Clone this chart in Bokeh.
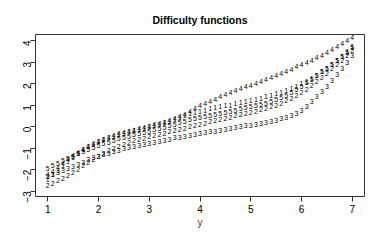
from bokeh.plotting import figure
from bokeh.models import ColumnDataSource, FixedTicker, Range1d
from bokeh.core.properties import value
from bokeh.embed import file_html
from bokeh.resources import INLINE
import math

x_grid = [1.0, 1.1, 1.2, 1.3, 1.4, 1.5, 1.6, 1.7, 1.8, 1.9,
          2.0, 2.1, 2.2, 2.3, 2.4, 2.5, 2.6, 2.7, 2.8, 2.9,
          3.0, 3.1, 3.2, 3.3, 3.4, 3.5, 3.6, 3.7, 3.8, 3.9,
          4.0, 4.1, 4.2, 4.3, 4.4, 4.5, 4.6, 4.7, 4.8, 4.9,
          5.0, 5.1, 5.2, 5.3, 5.4, 5.5, 5.6, 5.7, 5.8, 5.9,
          6.0, 6.1, 6.2, 6.3, 6.4, 6.5, 6.6, 6.7, 6.8, 6.9, 7.0]

series_1 = [-2.45, -2.24, -2.03, -1.82, -1.61, -1.42, -1.24, -1.08, -0.94, -0.82,
            -0.71, -0.61, -0.52, -0.44, -0.37, -0.31, -0.25, -0.19, -0.13, -0.07,
            -0.01, 0.05, 0.11, 0.18, 0.25, 0.33, 0.42, 0.52, 0.60, 0.66,
            0.72, 0.77, 0.83, 0.88, 0.92, 0.96, 1.00, 1.05, 1.10, 1.15,
            1.21, 1.26, 1.32, 1.38, 1.45, 1.52, 1.60, 1.68, 1.77, 1.87,
            1.98, 2.10, 2.24, 2.39, 2.55, 2.72, 2.89, 3.07, 3.26, 3.47, 3.72]

series_2 = [-2.75, -2.64, -2.52, -2.40, -2.27, -2.13, -1.98, -1.82, -1.66, -1.51,
            -1.37, -1.24, -1.12, -1.01, -0.91, -0.82, -0.74, -0.67, -0.60, -0.54,
            -0.48, -0.42, -0.36, -0.31, -0.25, -0.19, -0.13, -0.07, -0.01, 0.04,
            0.10, 0.16, 0.22, 0.28, 0.33, 0.39, 0.44, 0.50, 0.55, 0.61,
            0.66, 0.72, 0.78, 0.85, 0.92, 1.00, 1.09, 1.19, 1.31, 1.44,
            1.58, 1.74, 1.91, 2.09, 2.28, 2.48, 2.68, 2.88, 3.09, 3.30, 3.52]

series_3 = [-2.30, -2.22, -2.13, -2.04, -1.95, -1.85, -1.75, -1.65, -1.55, -1.46,
            -1.38, -1.30, -1.23, -1.16, -1.10, -1.04, -0.98, -0.93, -0.88, -0.83,
            -0.78, -0.73, -0.68, -0.63, -0.58, -0.53, -0.49, -0.45, -0.41, -0.37,
            -0.33, -0.29, -0.25, -0.21, -0.17, -0.13, -0.09, -0.05, -0.01, 0.03,
            0.07, 0.11, 0.15, 0.20, 0.25, 0.30, 0.36, 0.43, 0.52, 0.63,
            0.77, 0.95, 1.16, 1.39, 1.63, 1.88, 2.14, 2.41, 2.68, 2.96, 3.30]

series_4 = [-2.25, -2.07, -1.89, -1.71, -1.53, -1.36, -1.20, -1.05, -0.91, -0.79,
            -0.68, -0.58, -0.49, -0.41, -0.34, -0.28, -0.22, -0.16, -0.10, -0.04,
            0.02, 0.08, 0.14, 0.21, 0.28, 0.36, 0.46, 0.58, 0.71, 0.84,
            0.97, 1.08, 1.18, 1.28, 1.38, 1.48, 1.57, 1.66, 1.75, 1.84,
            1.93, 2.02, 2.11, 2.20, 2.29, 2.38, 2.47, 2.57, 2.67, 2.77,
            2.87, 2.98, 3.09, 3.20, 3.32, 3.44, 3.57, 3.70, 3.84, 3.99, 4.15]

series_5 = [-1.95, -1.83, -1.71, -1.59, -1.48, -1.37, -1.26, -1.16, -1.06, -0.97,
            -0.88, -0.80, -0.72, -0.64, -0.57, -0.50, -0.44, -0.38, -0.32, -0.27,
            -0.21, -0.15, -0.09, -0.03, 0.04, 0.11, 0.18, 0.25, 0.31, 0.37,
            0.42, 0.47, 0.52, 0.57, 0.62, 0.67, 0.72, 0.77, 0.82, 0.87,
            0.92, 0.97, 1.03, 1.09, 1.16, 1.24, 1.33, 1.44, 1.57, 1.71,
            1.87, 2.04, 2.21, 2.38, 2.55, 2.72, 2.89, 3.07, 3.26, 3.46, 3.67]

series_labels = ["1", "2", "3", "4", "5"]
series_values = [series_1, series_2, series_3, series_4, series_5]

x_ticks = [1, 2, 3, 4, 5, 6, 7]
y_ticks = [-3, -2, -1, 0, 1, 2, 3, 4]

p = figure(width=374, height=232, output_backend="svg", toolbar_location=None,
           x_range=Range1d(0.76, 7.24), y_range=Range1d(-3.25, 4.28),
           min_border_left=35, min_border_right=10, min_border_top=34, min_border_bottom=36,
           title="Difficulty functions")

p.title.align = "center"
p.title.text_font = "Liberation Sans"
p.title.text_font_size = "10.5px"
p.title.text_font_style = "bold"
p.title.text_color = "black"
p.title.standoff = 17

for lab, vals in zip(series_labels, series_values):
    src = ColumnDataSource(dict(x=x_grid, y=vals, t=[lab] * len(vals)))
    p.text(x="x", y="y", text="t", source=src, text_font=value("Liberation Sans"),
           text_font_size="7px", text_align="center", text_baseline="middle",
           text_color="black")

p.xgrid.visible = False
p.ygrid.visible = False
p.outline_line_color = "#333333"
p.outline_line_width = 1

for ax in (p.xaxis[0], p.yaxis[0]):
    ax.axis_line_color = None
    ax.major_tick_line_color = "#333333"
    ax.major_tick_out = 5
    ax.major_tick_in = 0
    ax.minor_tick_line_color = None
    ax.major_label_text_font = "Liberation Sans"
    ax.major_label_text_font_size = "10px"
    ax.major_label_text_color = "black"

p.xaxis[0].ticker = FixedTicker(ticks=x_ticks)
p.yaxis[0].ticker = FixedTicker(ticks=y_ticks)
p.yaxis[0].major_label_orientation = math.pi / 2
p.xaxis[0].major_label_standoff = 3
p.yaxis[0].major_label_standoff = 3
p.xaxis[0].axis_label = "y"
p.xaxis[0].axis_label_text_font = "Liberation Sans"
p.xaxis[0].axis_label_text_font_size = "10px"
p.xaxis[0].axis_label_text_font_style = "normal"
p.xaxis[0].axis_label_standoff = 1

open("out.html", "w").write(file_html(p, INLINE))
